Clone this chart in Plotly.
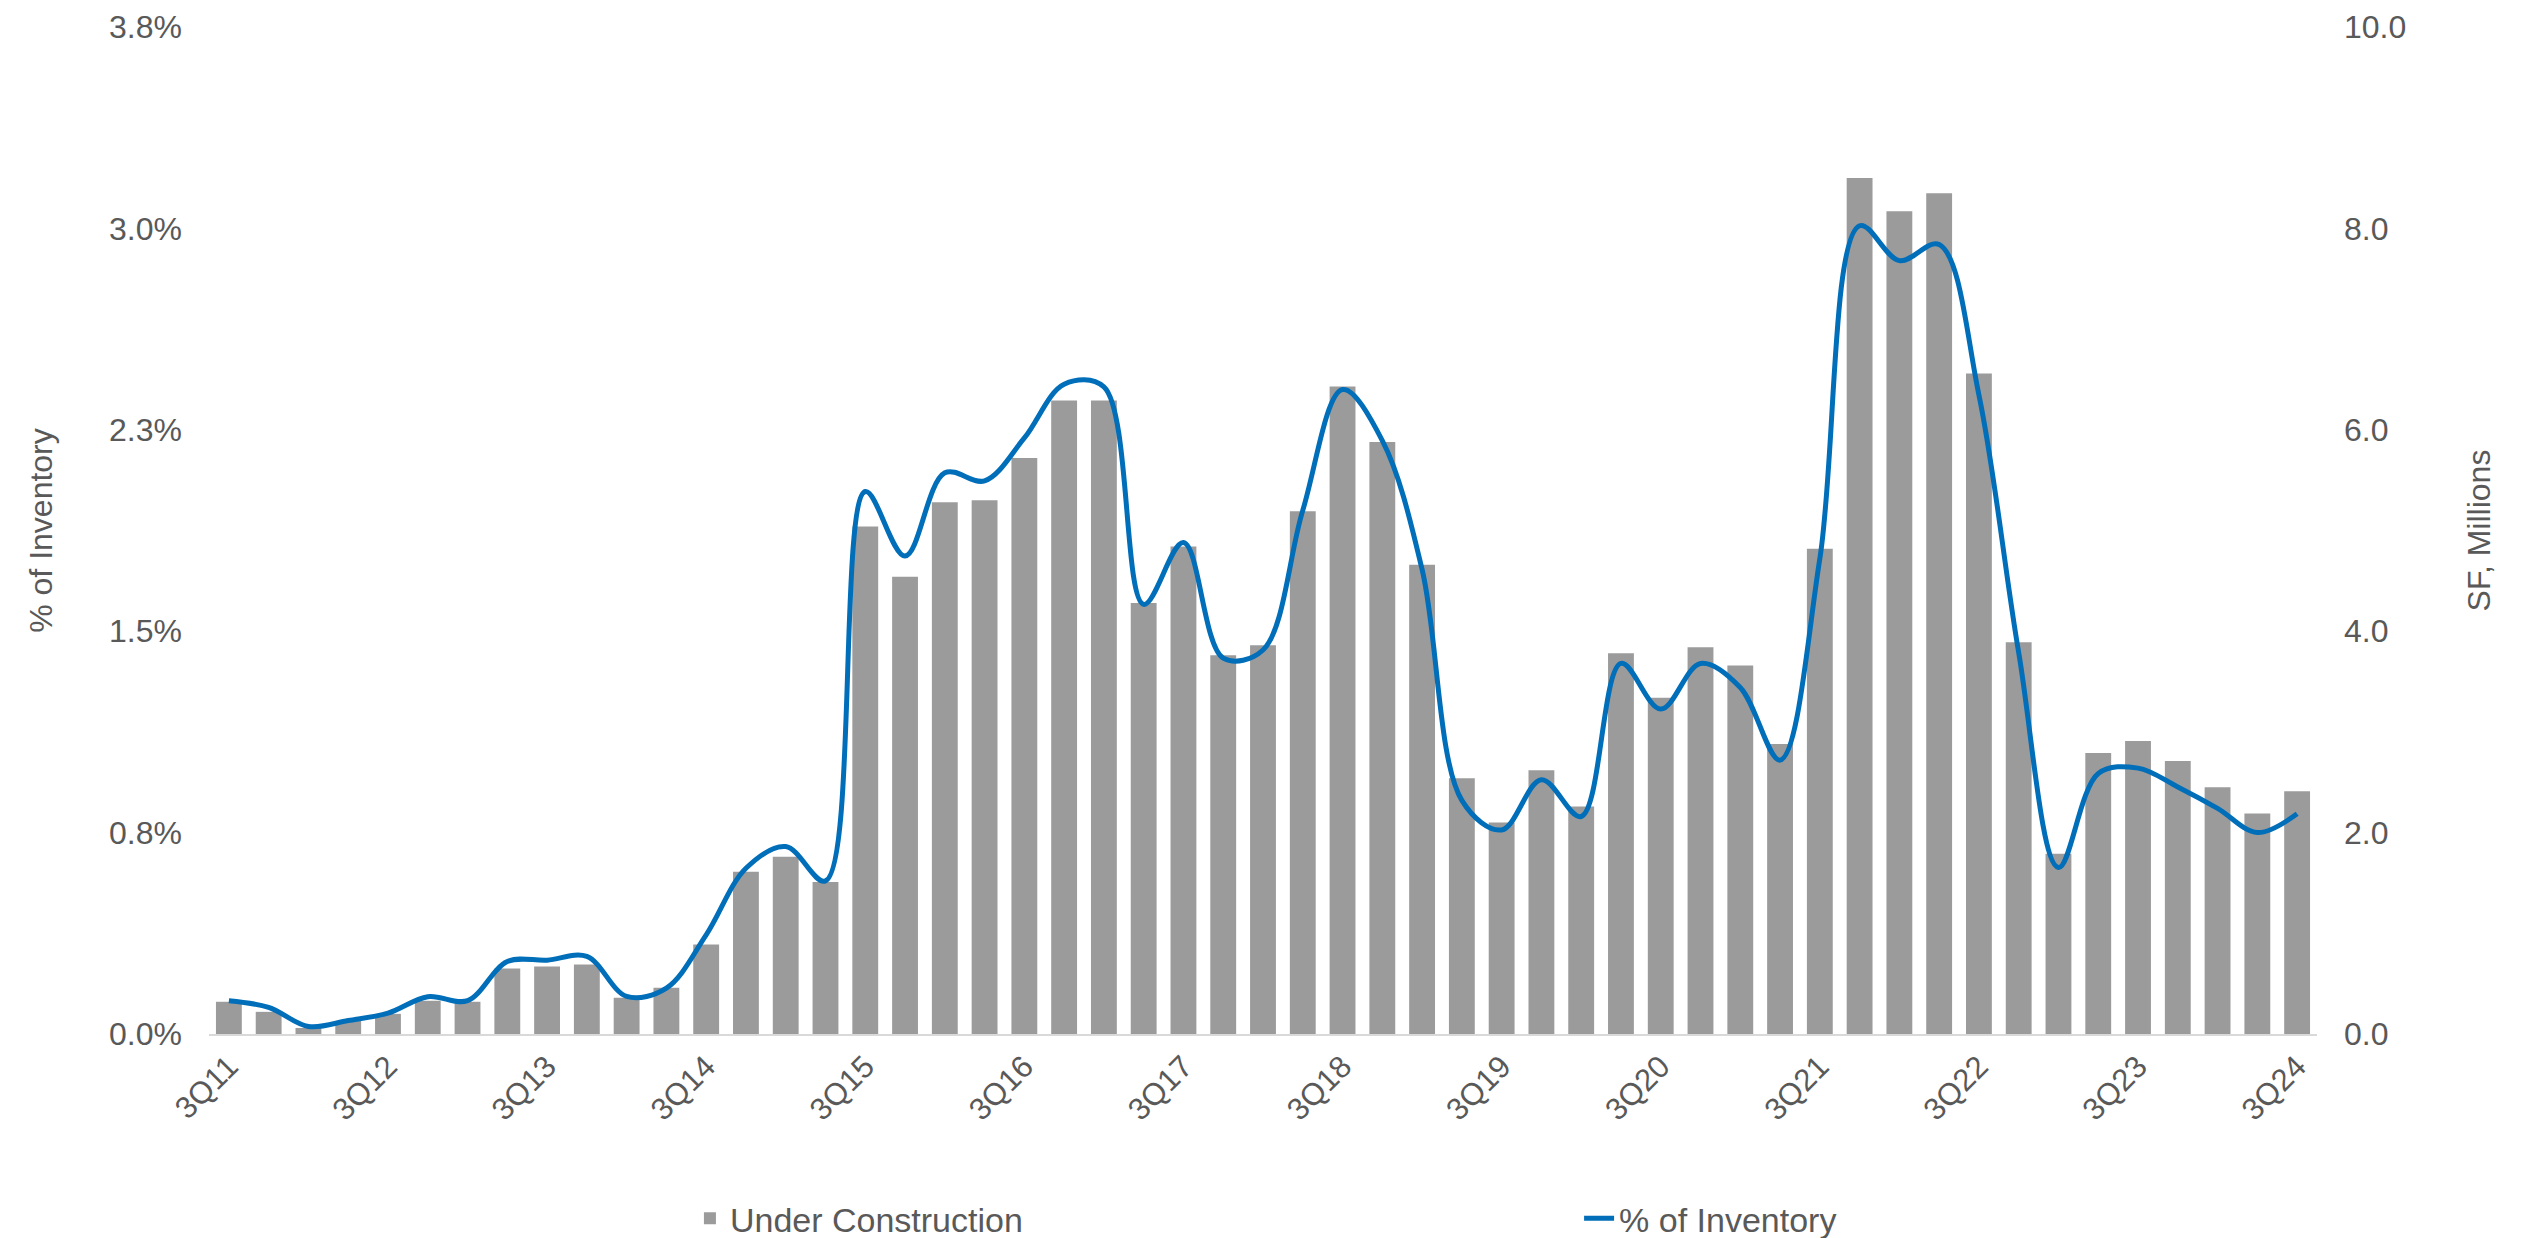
import plotly.graph_objects as go

quarters = ["3Q11", "4Q11",
            "1Q12", "2Q12", "3Q12", "4Q12",
            "1Q13", "2Q13", "3Q13", "4Q13",
            "1Q14", "2Q14", "3Q14", "4Q14",
            "1Q15", "2Q15", "3Q15", "4Q15",
            "1Q16", "2Q16", "3Q16", "4Q16",
            "1Q17", "2Q17", "3Q17", "4Q17",
            "1Q18", "2Q18", "3Q18", "4Q18",
            "1Q19", "2Q19", "3Q19", "4Q19",
            "1Q20", "2Q20", "3Q20", "4Q20",
            "1Q21", "2Q21", "3Q21", "4Q21",
            "1Q22", "2Q22", "3Q22", "4Q22",
            "1Q23", "2Q23", "3Q23", "4Q23",
            "1Q24", "2Q24", "3Q24"]

under_construction_msf = [0.32, 0.22,
                          0.06, 0.13, 0.20, 0.33,
                          0.32, 0.65, 0.67, 0.69,
                          0.36, 0.46, 0.89, 1.61,
                          1.76, 1.51, 5.04, 4.54,
                          5.28, 5.30, 5.72, 6.29,
                          6.29, 4.28, 4.84, 3.76,
                          3.86, 5.19, 6.43, 5.88,
                          4.66, 2.54, 2.10, 2.62,
                          2.26, 3.78, 3.34, 3.84,
                          3.66, 2.88, 4.82, 8.50,
                          8.17, 8.35, 6.56, 3.89,
                          1.79, 2.79, 2.91, 2.71,
                          2.45, 2.19, 2.41]

pct_of_inventory = [0.124, 0.099,
                    0.028, 0.050, 0.078, 0.139,
                    0.124, 0.270, 0.275, 0.289,
                    0.140, 0.171, 0.369, 0.617,
                    0.698, 0.570, 2.02, 1.78,
                    2.09, 2.06, 2.22, 2.42,
                    2.41, 1.60, 1.83, 1.40,
                    1.43, 1.95, 2.40, 2.21,
                    1.73, 0.87, 0.76, 0.947,
                    0.81, 1.38, 1.21, 1.38,
                    1.29, 1.02, 1.77, 3.01,
                    2.88, 2.94, 2.38, 1.42,
                    0.62, 0.97, 0.99, 0.92,
                    0.84, 0.75, 0.82]

x_tick_labels = ["3Q11", "3Q12", "3Q13", "3Q14", "3Q15", "3Q16", "3Q17",
                 "3Q18", "3Q19", "3Q20", "3Q21", "3Q22", "3Q23", "3Q24"]

left_tick_vals = [0, 0.75, 1.5, 2.25, 3.0, 3.75]
left_tick_text = ["0.0%", "0.8%", "1.5%", "2.3%", "3.0%", "3.8%"]

right_tick_vals = [0, 2, 4, 6, 8, 10]

FONT = "Liberation Sans, Arial, sans-serif"
TXT = "#595959"

fig = go.Figure()

fig.add_trace(go.Bar(
    x=quarters, y=under_construction_msf, name="Under Construction",
    marker=dict(color="#9B9B9B", line=dict(width=0)),
    yaxis="y", legend="legend", showlegend=True,
))

fig.add_trace(go.Scatter(
    x=quarters, y=pct_of_inventory, name="% of Inventory",
    mode="lines", line=dict(color="#006EB9", width=5, shape="spline", smoothing=1),
    yaxis="y2", legend="legend2", showlegend=True,
))

fig.update_layout(
    width=2521, height=1238,
    showlegend=True,
    margin=dict(l=201, r=212, t=19, b=212, autoexpand=False),
    paper_bgcolor="white", plot_bgcolor="white",
    font=dict(family=FONT, size=32, color=TXT),
    bargap=0.35,
    xaxis=dict(
        type="category", tickmode="array", tickvals=x_tick_labels, ticktext=x_tick_labels,
        tickangle=-45, showgrid=False, zeroline=False,
        showline=True, linecolor="#D9D9D9", linewidth=2,
        ticks="", tickfont=dict(size=31, color=TXT), automargin=False,
    ),
    yaxis=dict(
        side="right", range=[0, 10], tickvals=right_tick_vals, tickformat=".1f",
        showgrid=False, zeroline=False, showline=False, ticks="",
        ticklabelstandoff=26, tickfont=dict(size=32, color=TXT),
        title=dict(text="SF, Millions", standoff=62, font=dict(size=32, color=TXT)),
        automargin=False,
    ),
    yaxis2=dict(
        overlaying="y", side="left", range=[0, 3.75],
        tickmode="array", tickvals=left_tick_vals, ticktext=left_tick_text,
        showgrid=False, zeroline=False, showline=False, ticks="",
        ticklabelstandoff=26, tickfont=dict(size=32, color=TXT),
        title=dict(text="% of Inventory", standoff=46, font=dict(size=32, color=TXT)),
        automargin=False,
    ),
    legend=dict(
        orientation="h", xref="container", yref="container",
        x=0.2705, y=0.022, xanchor="left", yanchor="middle",
        font=dict(size=34, color=TXT), bgcolor="rgba(0,0,0,0)",
        visible=True,
    ),
    legend2=dict(
        orientation="h", xref="container", yref="container",
        x=0.6232, y=0.022, xanchor="left", yanchor="middle",
        font=dict(size=34, color=TXT), bgcolor="rgba(0,0,0,0)",
        visible=True,
    ),
)

fig.write_html("out.html")
